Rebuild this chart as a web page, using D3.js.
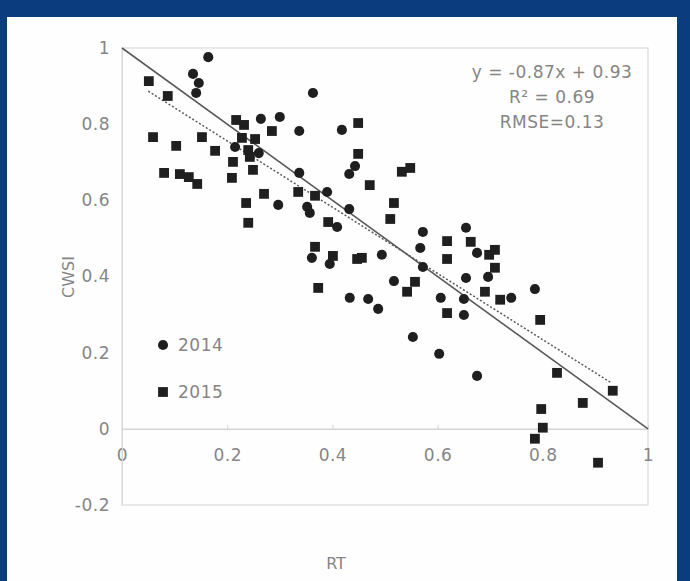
<!DOCTYPE html>
<html>
<head>
<meta charset="utf-8">
<script src="https://cdn.jsdelivr.net/npm/d3@7"></script>
<style>
  body { margin: 0; background: #0b3d7e; }
  svg { display: block; }
  .tick text, .lbl { font-family: "DejaVu Sans", sans-serif; fill: #858585; }
</style>
</head>
<body>
<div id="chart"></div>
<script>
// puntos 2014 (círculos) [RT, CWSI]
var datos2014 = [
  [0.164, 0.976], [0.135, 0.932], [0.146, 0.908], [0.141, 0.882], [0.363, 0.882],
  [0.264, 0.814], [0.300, 0.819], [0.337, 0.782], [0.418, 0.785], [0.215, 0.740],
  [0.260, 0.724], [0.337, 0.672], [0.443, 0.690], [0.432, 0.669], [0.390, 0.622],
  [0.297, 0.588], [0.352, 0.583], [0.357, 0.567], [0.432, 0.577], [0.409, 0.530],
  [0.572, 0.517], [0.654, 0.528], [0.675, 0.462], [0.567, 0.475], [0.494, 0.457],
  [0.361, 0.449], [0.395, 0.433], [0.572, 0.425], [0.696, 0.399], [0.654, 0.396],
  [0.517, 0.388], [0.606, 0.344], [0.650, 0.341], [0.740, 0.344], [0.785, 0.367],
  [0.433, 0.344], [0.468, 0.341], [0.487, 0.315], [0.650, 0.299], [0.553, 0.241],
  [0.603, 0.197], [0.675, 0.139]
];

// puntos 2015 (cuadrados)
var datos2015 = [
  [0.051, 0.913], [0.087, 0.874], [0.217, 0.811], [0.232, 0.798], [0.285, 0.782],
  [0.449, 0.803], [0.059, 0.766], [0.152, 0.766], [0.228, 0.764], [0.253, 0.761],
  [0.103, 0.743], [0.240, 0.732], [0.177, 0.730], [0.243, 0.714], [0.211, 0.701],
  [0.249, 0.680], [0.080, 0.672], [0.110, 0.669], [0.127, 0.661], [0.143, 0.643],
  [0.209, 0.659], [0.449, 0.722], [0.471, 0.640], [0.532, 0.675], [0.548, 0.685],
  [0.270, 0.617], [0.335, 0.622], [0.367, 0.612], [0.517, 0.593], [0.236, 0.593],
  [0.510, 0.551], [0.392, 0.543], [0.240, 0.541], [0.618, 0.493], [0.663, 0.491],
  [0.709, 0.470], [0.698, 0.457], [0.367, 0.478], [0.401, 0.454], [0.447, 0.446],
  [0.456, 0.449], [0.618, 0.446], [0.709, 0.423], [0.373, 0.370], [0.557, 0.386],
  [0.542, 0.360], [0.690, 0.360], [0.719, 0.339], [0.618, 0.304], [0.795, 0.286],
  [0.827, 0.147], [0.933, 0.100], [0.876, 0.068], [0.797, 0.052], [0.800, 0.003],
  [0.785, -0.026], [0.905, -0.089]
];

// línea 1:1 y recta de regresión
var lineaUno = [[0, 1], [1, 0]];
var pendiente = -0.87, intercepto = 0.93;
var rangoTendencia = [0.05, 0.93];

var ticksX = [0, 0.2, 0.4, 0.6, 0.8, 1];
var ticksY = [-0.2, 0, 0.2, 0.4, 0.6, 0.8, 1];
var textos = ["y = -0.87x + 0.93", "R² = 0.69", "RMSE=0.13"];
var leyenda = ["2014", "2015"];

var W = 690, H = 581;
var svg = d3.select("#chart").append("svg").attr("width", W).attr("height", H);

svg.append("rect").attr("width", W).attr("height", H).attr("fill", "#0b3d7e");
svg.append("rect").attr("x", 7).attr("y", 17).attr("width", 670).attr("height", H - 17).attr("fill", "#fefefe");

var x = d3.scaleLinear().domain([0, 1]).range([122, 648]);
var y = d3.scaleLinear().domain([-0.2, 1]).range([505, 48]);
var fmt = function (d) { return String(+d.toFixed(1)); };

// marco del área de trazado
svg.append("rect")
  .attr("x", x(0)).attr("y", y(1))
  .attr("width", x(1) - x(0)).attr("height", y(-0.2) - y(1))
  .attr("fill", "none").attr("stroke", "#d9d9d9").attr("stroke-width", 1.2);

// eje x sobre la línea cero
var ejeX = svg.append("g")
  .attr("transform", "translate(0," + y(0) + ")")
  .call(d3.axisBottom(x).tickValues(ticksX).tickFormat(fmt).tickSizeInner(-4).tickSizeOuter(0).tickPadding(20));
ejeX.select(".domain").attr("stroke", "#d4d4d4").attr("stroke-width", 1.5);
ejeX.selectAll(".tick line").attr("stroke", "#d4d4d4");
ejeX.selectAll(".tick text").attr("font-size", 17).attr("letter-spacing", 0.5);

// eje y
var ejeY = svg.append("g")
  .attr("transform", "translate(" + x(0) + ",0)")
  .call(d3.axisLeft(y).tickValues(ticksY).tickFormat(fmt).tickSizeInner(0).tickSizeOuter(0).tickPadding(12));
ejeY.select(".domain").attr("stroke", "#d9d9d9");
ejeY.selectAll(".tick text").attr("font-size", 17).attr("letter-spacing", 0.5);

// línea 1:1
svg.append("path")
  .datum(lineaUno)
  .attr("d", d3.line().x(d => x(d[0])).y(d => y(d[1])))
  .attr("fill", "none").attr("stroke", "#5a5a5a").attr("stroke-width", 1.6);

// recta de regresión punteada
var tendencia = rangoTendencia.map(v => [v, pendiente * v + intercepto]);
svg.append("path")
  .datum(tendencia)
  .attr("d", d3.line().x(d => x(d[0])).y(d => y(d[1])))
  .attr("fill", "none").attr("stroke", "#5a5a5a").attr("stroke-width", 1.5)
  .attr("stroke-dasharray", "2,2");

var circulo = d3.symbol().type(d3.symbolCircle).size(80);
var cuadrado = d3.symbol().type(d3.symbolSquare).size(96);

svg.selectAll(".p2014")
  .data(datos2014).enter()
  .append("path").attr("class", "p2014")
  .attr("d", circulo)
  .attr("transform", d => "translate(" + x(d[0]) + "," + y(d[1]) + ")")
  .attr("fill", "#1f1f1f");

svg.selectAll(".p2015")
  .data(datos2015).enter()
  .append("path").attr("class", "p2015")
  .attr("d", cuadrado)
  .attr("transform", d => "translate(" + x(d[0]) + "," + y(d[1]) + ")")
  .attr("fill", "#1f1f1f");

// ecuación
svg.selectAll(".eq")
  .data(textos).enter()
  .append("text").attr("class", "lbl")
  .attr("x", 552).attr("y", (d, i) => 78 + i * 25)
  .attr("text-anchor", "middle")
  .attr("font-size", 17).attr("letter-spacing", 0.5)
  .text(d => d);

// leyenda
var leg = svg.selectAll(".leg")
  .data(leyenda).enter()
  .append("g").attr("class", "leg")
  .attr("transform", (d, i) => "translate(163," + (345 + i * 47) + ")");
leg.append("path")
  .attr("d", (d, i) => i === 0 ? circulo() : cuadrado())
  .attr("fill", "#1f1f1f");
leg.append("text").attr("class", "lbl")
  .attr("x", 15).attr("y", 6)
  .attr("font-size", 17).attr("letter-spacing", 0.5)
  .text(d => d);

// títulos de los ejes
svg.append("text").attr("class", "lbl")
  .attr("x", 336).attr("y", 569)
  .attr("text-anchor", "middle").attr("font-size", 16)
  .text("RT");
svg.append("text").attr("class", "lbl")
  .attr("transform", "translate(74,277) rotate(-90)")
  .attr("text-anchor", "middle").attr("font-size", 16)
  .text("CWSI");
</script>
</body>
</html>
